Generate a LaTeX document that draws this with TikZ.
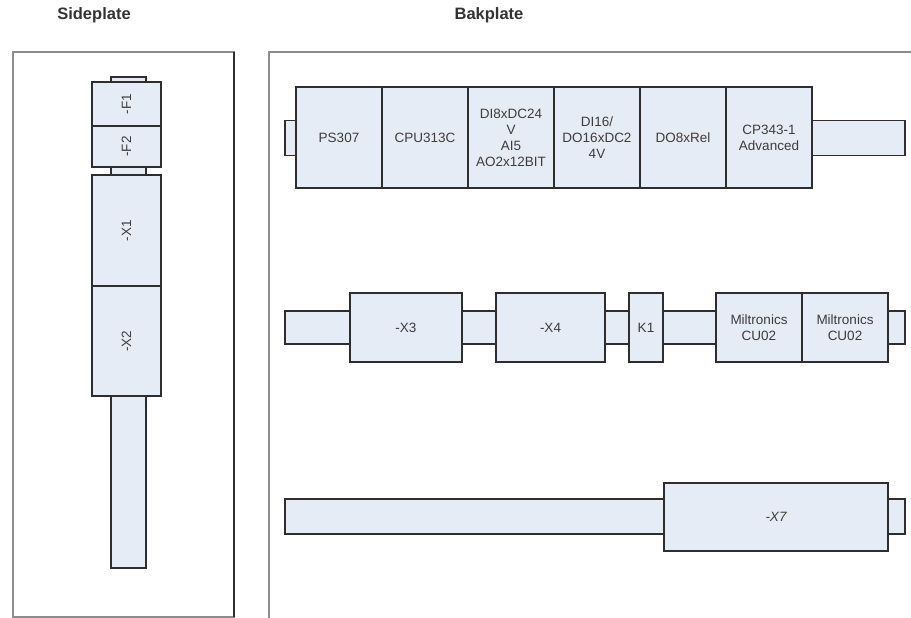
\documentclass[tikz,border=0pt]{standalone}
\usepackage{fontspec}
\setmainfont{Liberation Sans}
\usepackage{graphicx}
\usepackage{tikz}
\usetikzlibrary{
  positioning,
}
\definecolor{modfill}{HTML}{E6ECF6}
\definecolor{framegray}{HTML}{8C8C8C}
\definecolor{edgegray}{HTML}{2E2E2E}
\definecolor{textgray}{HTML}{3C3C3C}

\begin{document}
\begin{tikzpicture}[
    x=1pt, y=-1pt,
    module/.style={draw=edgegray, fill=modfill, line width=1.2pt,
      inner sep=0pt, outer sep=0pt, align=center, text=textgray,
      font=\fontsize{13.5}{16}\selectfont},
    rail/.style={module},
    card/.style={module, minimum width=86, minimum height=101},
    plate/.style={draw=framegray, line width=1.6pt},
    title/.style={font=\fontsize{16.5}{19}\selectfont\bfseries, text=black!80},
  ]
  \useasboundingbox (0,0) rectangle (911,618);

  % Plates
  \draw[plate] (13,52) rectangle (234,617);
  \draw[edgegray, line width=1.4pt] (234,52) -- (234,617);
  \draw[plate] (269,618) -- (269,52) -- (911,52);
  \node[title] (side) at (94,15) {Sideplate};
  \node[title] (bak)  at (489,15) {Bakplate};

  % Sideplate
  \node[rail, minimum width=35, minimum height=491] (srail) at (128.5,322.5) {};
  \node[module, minimum width=69, minimum height=44] (f1) at (126.5,104) {\rotatebox{90}{-F1}};
  \node[module, minimum width=69, minimum height=41, below=0pt of f1] (f2) {\rotatebox{90}{-F2}};
  \node[module, minimum width=69, minimum height=111] (x1) at (126.5,230.5) {\rotatebox{90}{-X1}};
  \node[module, minimum width=69, minimum height=110, below=0pt of x1] (x2) {\rotatebox{90}{-X2}};

  % Bakplate, top rail
  \node[rail, minimum width=620, minimum height=35] (rail1) at (595,138) {};
  \node[card] (ps) at (339,137.5) {PS307};
  \node[card, right=0pt of ps]   (cpu)  {CPU313C};
  \node[card, right=0pt of cpu]  (ai)   {DI8xDC24\\V\\AI5\\AO2x12BIT};
  \node[card, right=0pt of ai]   (dio)  {DI16/\\DO16xDC2\\4V};
  \node[card, right=0pt of dio]  (do)   {DO8xRel};
  \node[card, right=0pt of do]   (cp)   {CP343-1\\Advanced};

  % Bakplate, middle rail
  \node[rail, minimum width=620, minimum height=33] (rail2) at (595,327.5) {};
  \node[module, minimum width=112, minimum height=69] (x3) at (406,327.5) {-X3};
  \node[module, minimum width=109, minimum height=69] (x4) at (550.5,327.5) {-X4};
  \node[module, minimum width=34, minimum height=69]  (k1) at (646,327.5) {K1};
  \node[module, minimum width=86, minimum height=69]  (mil1) at (759,327.5) {Miltronics\\CU02};
  \node[module, minimum width=86, minimum height=69, right=0pt of mil1] (mil2) {Miltronics\\CU02};

  % Bakplate, bottom rail
  \node[rail, minimum width=620, minimum height=35] (rail3) at (595,516.5) {};
  \node[module, minimum width=224, minimum height=68] (x7) at (776,517) {\itshape -X7};
\end{tikzpicture}
\end{document}
